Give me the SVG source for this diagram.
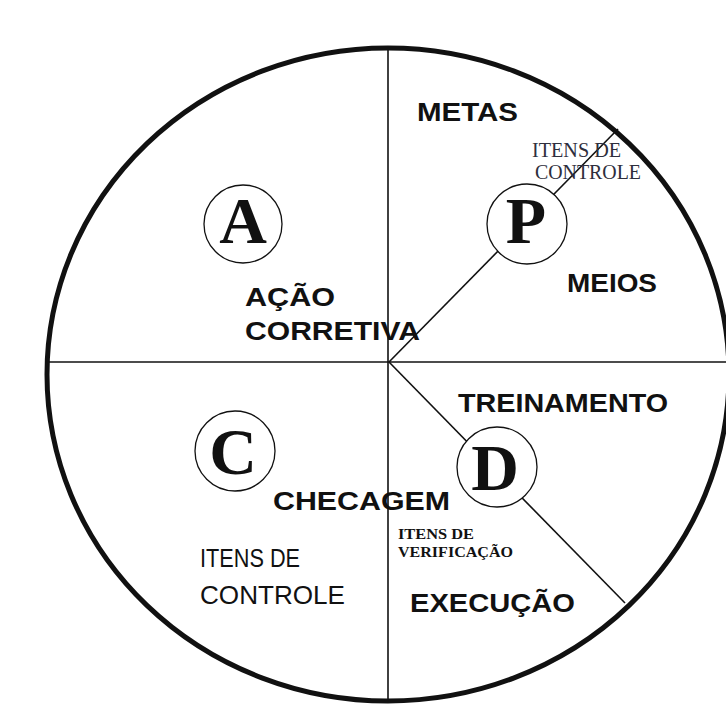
<svg xmlns="http://www.w3.org/2000/svg" width="726" height="706" viewBox="0 0 726 706">
<style>
.lbl{font-family:"Liberation Sans",Arial,sans-serif;font-weight:bold;font-size:26px;fill:#111}
.reg{font-family:"Liberation Sans",Arial,sans-serif;font-size:25px;fill:#111}
.big{font-family:"Liberation Serif","Times New Roman",serif;font-weight:bold;font-size:66px;fill:#111;text-anchor:middle}
.sm{font-family:"Liberation Serif","Times New Roman",serif;font-size:20px;fill:#2e2e3c}
.smb{font-family:"Liberation Serif","Times New Roman",serif;font-weight:900;font-size:15px;fill:#111}
.ln{stroke:#111;stroke-width:1.6;fill:none}
.node{fill:#fff;stroke:#111;stroke-width:1.3}
</style>
<rect width="726" height="706" fill="#fff"/>
<g id="connectors">
<line class="ln" x1="388" y1="48" x2="388" y2="699"/>
<line class="ln" x1="47" y1="362" x2="726" y2="362"/>
<line class="ln" x1="389" y1="362" x2="618" y2="129"/>
<line class="ln" x1="389" y1="362" x2="625" y2="603"/>
</g>
<ellipse id="cycle" cx="388" cy="374.5" rx="341" ry="326.5" fill="none" stroke="#111" stroke-width="5"/>
<g id="node-A"><circle class="node" cx="243" cy="224" r="39"/><text class="big" x="243" y="243">A</text></g>
<g id="node-P"><circle class="node" cx="527" cy="224" r="40"/><text class="big" x="526" y="243">P</text></g>
<g id="node-C"><circle class="node" cx="235" cy="451" r="40"/><text class="big" x="233" y="474">C</text></g>
<g id="node-D"><circle class="node" cx="497" cy="467" r="40"/><text class="big" x="495" y="490">D</text></g>
<g id="labels">
<text class="lbl" x="417" y="121" textLength="101" lengthAdjust="spacingAndGlyphs">METAS</text>
<text class="sm" x="532" y="157" textLength="89" lengthAdjust="spacingAndGlyphs">ITENS DE</text>
<text class="sm" x="535" y="179" textLength="106" lengthAdjust="spacingAndGlyphs">CONTROLE</text>
<text class="lbl" x="567" y="292" textLength="90" lengthAdjust="spacingAndGlyphs">MEIOS</text>
<text class="lbl" x="245" y="306" textLength="90" lengthAdjust="spacingAndGlyphs">AÇÃO</text>
<text class="lbl" x="245" y="340" textLength="175" lengthAdjust="spacingAndGlyphs">CORRETIVA</text>
<text class="lbl" x="458" y="412" textLength="210" lengthAdjust="spacingAndGlyphs">TREINAMENTO</text>
<text class="lbl" x="273" y="510" textLength="177" lengthAdjust="spacingAndGlyphs">CHECAGEM</text>
<text class="smb" x="398" y="539" textLength="76" lengthAdjust="spacingAndGlyphs">ITENS DE</text>
<text class="smb" x="398" y="557" textLength="115" lengthAdjust="spacingAndGlyphs">VERIFICAÇÃO</text>
<text class="reg" x="200" y="567" textLength="100" lengthAdjust="spacingAndGlyphs">ITENS DE</text>
<text class="reg" x="200" y="604" textLength="145" lengthAdjust="spacingAndGlyphs">CONTROLE</text>
<text class="lbl" x="410" y="612" textLength="165" lengthAdjust="spacingAndGlyphs">EXECUÇÃO</text>
</g>
</svg>
